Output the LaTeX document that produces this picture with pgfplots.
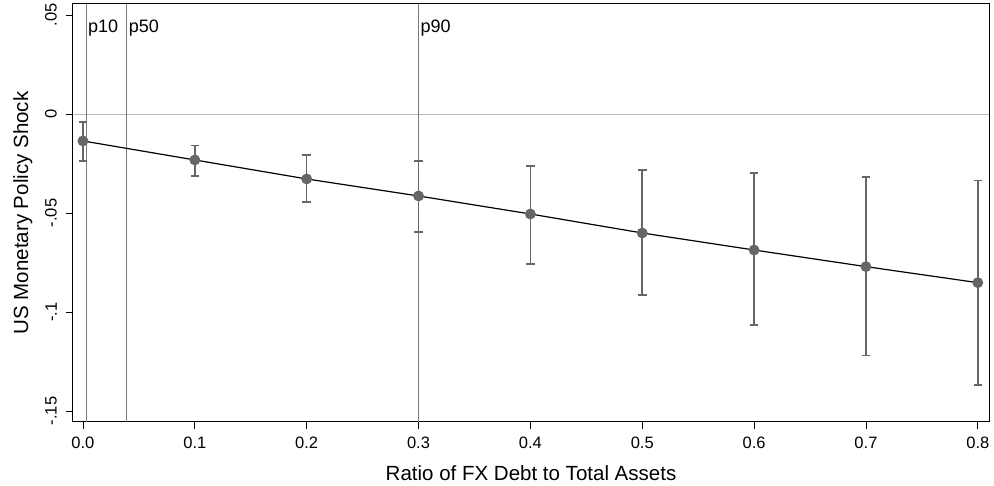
\documentclass[border=0pt]{standalone}
\usepackage{pgfplots}
\pgfplotsset{compat=1.18}
\usepackage{pgfplotstable}
\usepackage{fontspec}
\setmainfont{Liberation Sans}
\definecolor{mk}{HTML}{666666}
\definecolor{vl}{HTML}{7A7A7A}
\definecolor{hl}{HTML}{BBBBBB}
\pgfplotstableread{
x y ep em
0.0 -0.0136 0.0096 0.0101
0.1 -0.0232 0.0075 0.0081
0.2 -0.0328 0.0121 0.0116
0.3 -0.0414 0.0177 0.0182
0.4 -0.0505 0.0242 0.0253
0.5 -0.0601 0.0318 0.0313
0.6 -0.0687 0.0389 0.0379
0.7 -0.0771 0.0453 0.0450
0.8 -0.0852 0.0517 0.0517
}\est
\begin{document}
\begin{tikzpicture}
\useasboundingbox (-73pt,-64pt) rectangle (921pt,422pt);
\begin{axis}[
  at={(0,0)}, anchor=south west,
  scale only axis, width=916pt, height=418pt,
  xmin=-0.0089, xmax=0.81, ymin=-0.1556, ymax=0.0556,
  xtick={0,0.1,0.2,0.3,0.4,0.5,0.6,0.7,0.8},
  xticklabels={0.0,0.1,0.2,0.3,0.4,0.5,0.6,0.7,0.8},
  ytick={-0.15,-0.1,-0.05,0,0.05},
  yticklabels={-.15,-.1,-.05,0,.05},
  tick pos=left, tick align=outside, major tick length=7pt,
  tick style={black, line width=0.8pt},
  axis line style={black, line width=1pt},
  tick label style={font=\fontsize{16.5}{19}\selectfont},
  xticklabel style={anchor=north, inner sep=0pt},
  xticklabel shift=8pt,
  yticklabel style={rotate=90, anchor=south, inner sep=0pt},
  yticklabel shift=9pt,
  xlabel={Ratio of FX Debt to Total Assets},
  ylabel={US Monetary Policy Shock},
  every axis x label/.style={at={(axis description cs:0.5,-0.1388)}, anchor=base, font=\fontsize{20.5}{24}\selectfont},
  every axis y label/.style={at={(axis description cs:-0.0491,0.5)}, rotate=90, anchor=base, font=\fontsize{20.5}{24}\selectfont},
  clip=false,
]
\draw[hl, line width=0.8pt] (axis cs:-0.0089,0) -- (axis cs:0.81,0);
\draw[vl, line width=0.8pt] (axis cs:0.0027,-0.1556) -- (axis cs:0.0027,0.0556);
\draw[vl, line width=0.8pt] (axis cs:0.039,-0.1556) -- (axis cs:0.039,0.0556);
\draw[vl, line width=0.8pt] (axis cs:0.3,-0.1556) -- (axis cs:0.3,0.0556);
\node[anchor=base west, inner sep=2pt, font=\fontsize{18}{21}\selectfont] at (axis cs:0.0027,0.0410) {p10};
\node[anchor=base west, inner sep=2pt, font=\fontsize{18}{21}\selectfont] at (axis cs:0.039,0.0410) {p50};
\node[anchor=base west, inner sep=2pt, font=\fontsize{18}{21}\selectfont] at (axis cs:0.3,0.0410) {p90};
\addplot[draw=none, mark=none, forget plot,
  error bars/.cd, y dir=both, y explicit,
  error bar style={mk, line width=1.6pt},
  error mark options={rotate=90, mk, mark size=4.3pt, line width=1.2pt}]
  table[x=x, y=y, y error plus=ep, y error minus=em] {\est};
\addplot[black, line width=1.2pt, mark=*, mark size=4.8pt,
  mark options={fill=mk, draw=mk}]
  table[x=x, y=y] {\est};
\end{axis}
\end{tikzpicture}
\end{document}
